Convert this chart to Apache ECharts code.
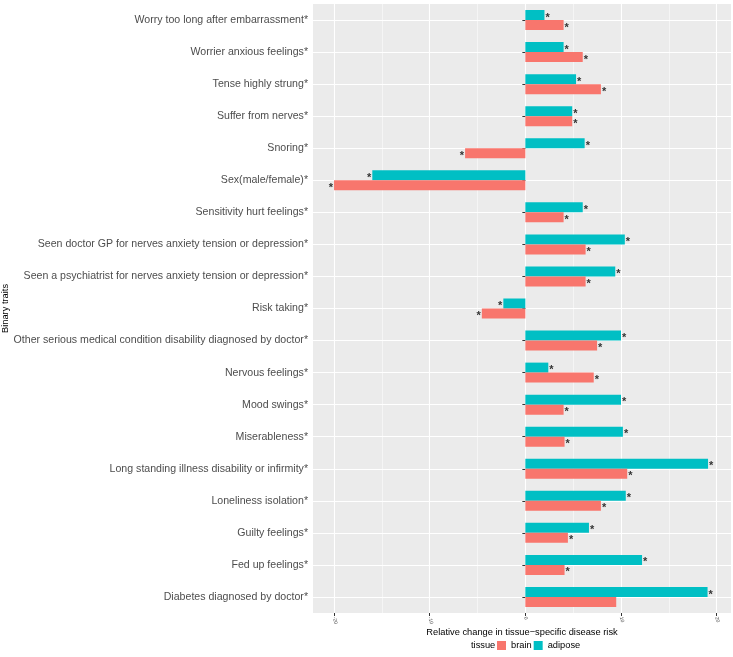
<!DOCTYPE html>
<html>
<head>
<meta charset="utf-8">
<script src="https://cdn.jsdelivr.net/npm/echarts@6/dist/echarts.min.js"></script>
<style>
    html, body { margin: 0; padding: 0; background: #fff; }
    #chart { width: 733px; height: 657px; }
</style>
</head>
<body>
<div id="chart"></div>
<script>
    // traits, top to bottom
    const traits = [
        'Worry too long after embarrassment*',
        'Worrier anxious feelings*',
        'Tense highly strung*',
        'Suffer from nerves*',
        'Snoring*',
        'Sex(male/female)*',
        'Sensitivity hurt feelings*',
        'Seen doctor GP for nerves anxiety tension or depression*',
        'Seen a psychiatrist for nerves anxiety tension or depression*',
        'Risk taking*',
        'Other serious medical condition disability diagnosed by doctor*',
        'Nervous feelings*',
        'Mood swings*',
        'Miserableness*',
        'Long standing illness disability or infirmity*',
        'Loneliness isolation*',
        'Guilty feelings*',
        'Fed up feelings*',
        'Diabetes diagnosed by doctor*'
    ];
    const adipose = [2.0, 4.0, 5.3, 4.9, 6.2, -16.0, 6.0, 10.4, 9.4, -2.3, 10.0, 2.4, 10.0, 10.2, 19.1, 10.5, 6.65, 12.2, 19.05];
    const brain = [4.0, 6.0, 7.9, 4.9, -6.3, -20.0, 4.0, 6.3, 6.3, -4.55, 7.5, 7.15, 4.0, 4.1, 10.65, 7.9, 4.45, 4.1, 9.5];
    const adiposeSig = [1, 1, 1, 1, 1, 1, 1, 1, 1, 1, 1, 1, 1, 1, 1, 1, 1, 1, 1];
    const brainSig = [1, 1, 1, 1, 1, 1, 1, 1, 1, 1, 1, 1, 1, 1, 1, 1, 1, 1, 0];
    const xTicks = [-20, -10, 0, 10, 20];
    const xMinor = [-15, -5, 5, 15];

    function toData(vals, sig) {
        return vals.map((v, i) => ({
            value: v,
            label: {
                show: sig[i] === 1,
                position: v < 0 ? 'left' : 'right',
                distance: 1
            }
        }));
    }

    const chart = echarts.init(document.getElementById('chart'));
    const xRange = { min: -22.2, max: 21.5 };
    const starLabel = { formatter: '*', fontSize: 11, fontWeight: 'bold', color: '#333', offset: [0, 2.5] };
    const option = {
        animation: false,
        textStyle: { fontFamily: 'Liberation Sans, Arial, sans-serif' },
        grid: {
            left: 313,
            right: 2,
            top: 4,
            height: 609,
            outerBoundsMode: 'none',
            containLabel: false,
            show: true,
            backgroundColor: '#EBEBEB',
            borderWidth: 0
        },
        legend: {
            data: ['brain', 'adipose'],
            left: 497,
            top: 641,
            padding: 0,
            icon: 'rect',
            itemWidth: 9,
            itemHeight: 9,
            itemGap: 2,
            textStyle: { fontSize: 9.3, color: '#000' }
        },
        graphic: [{
            type: 'text',
            left: 471,
            top: 640.5,
            style: { text: 'tissue', fontSize: 9.3, fill: '#000', fontFamily: 'Liberation Sans, Arial, sans-serif' }
        }],
        xAxis: [{
            type: 'value',
            min: xRange.min,
            max: xRange.max,
            name: 'Relative change in tissue\u2212specific disease risk',
            nameLocation: 'middle',
            nameGap: 15,
            nameMoveOverlap: false,
            nameTextStyle: { fontSize: 9.3, color: '#000' },
            axisLine: { show: false },
            axisTick: { show: true, length: 3, lineStyle: { color: '#333' }, customValues: xTicks },
            axisLabel: {
                fontSize: 5,
                color: '#4D4D4D',
                rotate: -75,
                margin: 4,
                customValues: xTicks
            },
            splitLine: { show: true, lineStyle: { color: '#fff', width: 1.1 } }
        }, {
            // minor grid lines
            type: 'value',
            min: xRange.min,
            max: xRange.max,
            position: 'bottom',
            axisLine: { show: false },
            axisTick: { show: false, customValues: xMinor },
            axisLabel: { show: false, customValues: xMinor },
            splitLine: { show: true, lineStyle: { color: '#fff', width: 0.5 } }
        }],
        yAxis: {
            type: 'category',
            data: traits,
            inverse: true,
            name: 'Binary traits',
            nameLocation: 'middle',
            nameGap: 303,
            nameMoveOverlap: false,
            nameTextStyle: { fontSize: 9.3, color: '#000' },
            axisLine: { show: false },
            axisTick: { show: true, alignWithLabel: true, length: 3, lineStyle: { color: '#333' } },
            axisLabel: { fontSize: 10.6, color: '#4D4D4D', margin: 5 },
            splitLine: { show: true, alignWithLabel: true, lineStyle: { color: '#fff', width: 1.1 } }
        },
        series: [{
            name: 'adipose',
            type: 'bar',
            barWidth: 10,
            barGap: '0%',
            itemStyle: { color: '#00BFC4' },
            label: starLabel,
            data: toData(adipose, adiposeSig)
        }, {
            name: 'brain',
            type: 'bar',
            barWidth: 10,
            barGap: '0%',
            itemStyle: { color: '#F8766D' },
            label: starLabel,
            data: toData(brain, brainSig)
        }]
    };
    chart.setOption(option);
</script>
</body>
</html>
